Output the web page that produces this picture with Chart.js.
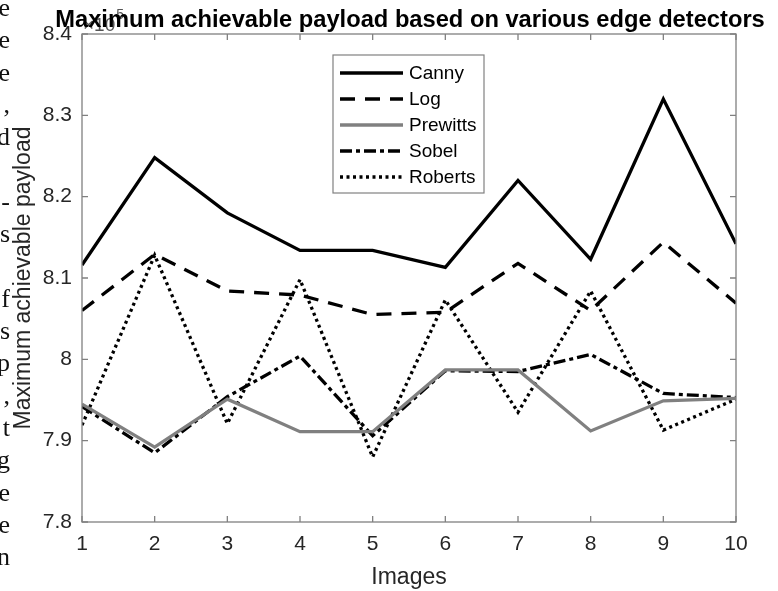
<!DOCTYPE html>
<html>
<head>
<meta charset="utf-8">
<script src="https://cdn.jsdelivr.net/npm/chart.js@4.4.0/dist/chart.umd.min.js"></script>
<style>
  body { margin: 0; background: #fff; }
  canvas { display: block; background: #fff; }
</style>
</head>
<body>
<canvas id="chart" width="778" height="591"></canvas>
<script>
// Payload values, in units of 10^5
const images   = [1, 2, 3, 4, 5, 6, 7, 8, 9, 10];
const canny    = [8.116, 8.248, 8.180, 8.134, 8.134, 8.113, 8.220, 8.123, 8.320, 8.142];
const logDet   = [8.060, 8.129, 8.084, 8.079, 8.055, 8.058, 8.118, 8.060, 8.144, 8.069];
const prewitts = [7.945, 7.892, 7.951, 7.911, 7.911, 7.987, 7.987, 7.912, 7.949, 7.952];
const sobel    = [7.942, 7.885, 7.954, 8.004, 7.906, 7.986, 7.985, 8.006, 7.958, 7.953];
const roberts  = [7.919, 8.128, 7.921, 8.098, 7.880, 8.073, 7.935, 8.084, 7.913, 7.951];

const xTickLabels = ['1', '2', '3', '4', '5', '6', '7', '8', '9', '10'];
const yTickLabels = ['7.8', '7.9', '8', '8.1', '8.2', '8.3', '8.4'];
const yExponent = '5';
const chartTitle = 'Maximum achievable payload based on various edge detectors';

// clipped letters of the surrounding page text, one per line
const marginLetters = ['e', 'e', 'e', ',', 'd', '', '-', 's', '', 'f', 's', 'p', ',', 't', 'g', 'e', 'e', 'n'];

const FONT = '"Liberation Sans", Arial, Helvetica, sans-serif';

function points(values) {
  return images.map((x, i) => ({ x: x, y: values[i] }));
}

// page text, exponent label, title, axes box, inward ticks and legend, MATLAB style
const matlabStyle = {
  id: 'matlabStyle',
  beforeDraw(chart) {
    const ctx = chart.ctx;
    const a = chart.chartArea;
    ctx.save();
    ctx.fillStyle = '#fff';
    ctx.fillRect(0, 0, chart.width, chart.height);

    ctx.fillStyle = '#111';
    ctx.font = '26px "Liberation Serif", "Times New Roman", serif';
    ctx.textAlign = 'right';
    ctx.textBaseline = 'alphabetic';
    marginLetters.forEach((ch, k) => {
      if (ch) ctx.fillText(ch, 10, 16 + 32.3 * k);
    });

    ctx.fillStyle = '#555';
    ctx.textAlign = 'left';
    ctx.font = '19px ' + FONT;
    ctx.fillText('\u00d710', a.left + 1, 31);
    const w = ctx.measureText('\u00d710').width;
    ctx.font = '14px ' + FONT;
    ctx.fillText(yExponent, a.left + 2 + w, 19);

    ctx.fillStyle = '#000';
    ctx.textAlign = 'center';
    ctx.font = 'bold 23.7px ' + FONT;
    ctx.fillText(chartTitle, (a.left + a.right) / 2 + 1, 27);
    ctx.restore();
  },
  afterDatasetsDraw(chart) {
    const ctx = chart.ctx;
    const a = chart.chartArea;
    const xs = chart.scales.x;
    const ys = chart.scales.y;
    const tick = 6;
    ctx.save();
    ctx.strokeStyle = '#808080';
    ctx.lineWidth = 1.3;
    ctx.strokeRect(a.left, a.top, a.right - a.left, a.bottom - a.top);
    ctx.beginPath();
    xs.ticks.forEach(t => {
      const px = xs.getPixelForValue(t.value);
      ctx.moveTo(px, a.bottom); ctx.lineTo(px, a.bottom - tick);
      ctx.moveTo(px, a.top); ctx.lineTo(px, a.top + tick);
    });
    ys.ticks.forEach(t => {
      const py = ys.getPixelForValue(t.value);
      ctx.moveTo(a.left, py); ctx.lineTo(a.left + tick, py);
      ctx.moveTo(a.right, py); ctx.lineTo(a.right - tick, py);
    });
    ctx.stroke();

    // legend
    const box = { left: 333, top: 55, width: 151, height: 138 };
    ctx.fillStyle = '#fff';
    ctx.fillRect(box.left, box.top, box.width, box.height);
    ctx.strokeStyle = '#808080';
    ctx.lineWidth = 1.2;
    ctx.strokeRect(box.left, box.top, box.width, box.height);
    ctx.font = '19px ' + FONT;
    ctx.textAlign = 'left';
    ctx.textBaseline = 'middle';
    chart.data.datasets.forEach((ds, i) => {
      const y = 73 + 26 * i;
      ctx.strokeStyle = ds.borderColor;
      ctx.lineWidth = ds.borderWidth;
      ctx.setLineDash(ds.borderDash || []);
      ctx.beginPath();
      ctx.moveTo(340, y);
      ctx.lineTo(403, y);
      ctx.stroke();
      ctx.setLineDash([]);
      ctx.fillStyle = '#000';
      ctx.fillText(ds.label, 409, y + 1);
    });
    ctx.restore();
  }
};

new Chart(document.getElementById('chart'), {
  type: 'line',
  data: {
    datasets: [
      { label: 'Canny', data: points(canny), borderColor: '#000', borderWidth: 3.3 },
      { label: 'Log', data: points(logDet), borderColor: '#000', borderWidth: 3.3, borderDash: [15, 10] },
      { label: 'Prewitts', data: points(prewitts), borderColor: '#808080', borderWidth: 3.3 },
      { label: 'Sobel', data: points(sobel), borderColor: '#000', borderWidth: 3.3, borderDash: [12, 4, 4, 4] },
      { label: 'Roberts', data: points(roberts), borderColor: '#000', borderWidth: 3.3, borderDash: [3, 3.5] }
    ]
  },
  options: {
    responsive: false,
    animation: false,
    devicePixelRatio: 1,
    layout: { padding: { left: 0, right: 42, top: 34, bottom: 0 } },
    elements: {
      point: { radius: 0 },
      line: { tension: 0, fill: false }
    },
    plugins: {
      legend: { display: false },
      tooltip: { enabled: false },
      title: { display: false }
    },
    scales: {
      x: {
        type: 'linear',
        min: 1,
        max: 10,
        afterFit: s => { s.height = 69; },
        grid: { display: false, drawTicks: false },
        border: { display: false },
        ticks: {
          stepSize: 1,
          color: '#262626',
          padding: 10,
          maxRotation: 0,
          font: { family: FONT, size: 21 },
          callback: (v, i) => xTickLabels[i]
        },
        title: {
          display: true,
          text: 'Images',
          color: '#262626',
          font: { family: FONT, size: 23 },
          padding: { top: 0, bottom: 0 }
        }
      },
      y: {
        min: 7.8,
        max: 8.4,
        afterFit: s => { s.width = 82; },
        grid: { display: false, drawTicks: false },
        border: { display: false },
        ticks: {
          stepSize: 0.1,
          color: '#262626',
          padding: 10,
          font: { family: FONT, size: 21 },
          callback: (v, i) => yTickLabels[i]
        },
        title: {
          display: true,
          text: 'Maximum achievable payload',
          color: '#262626',
          font: { family: FONT, size: 23 },
          padding: { top: 10, bottom: 0 }
        }
      }
    }
  },
  plugins: [matlabStyle]
});
</script>
</body>
</html>
